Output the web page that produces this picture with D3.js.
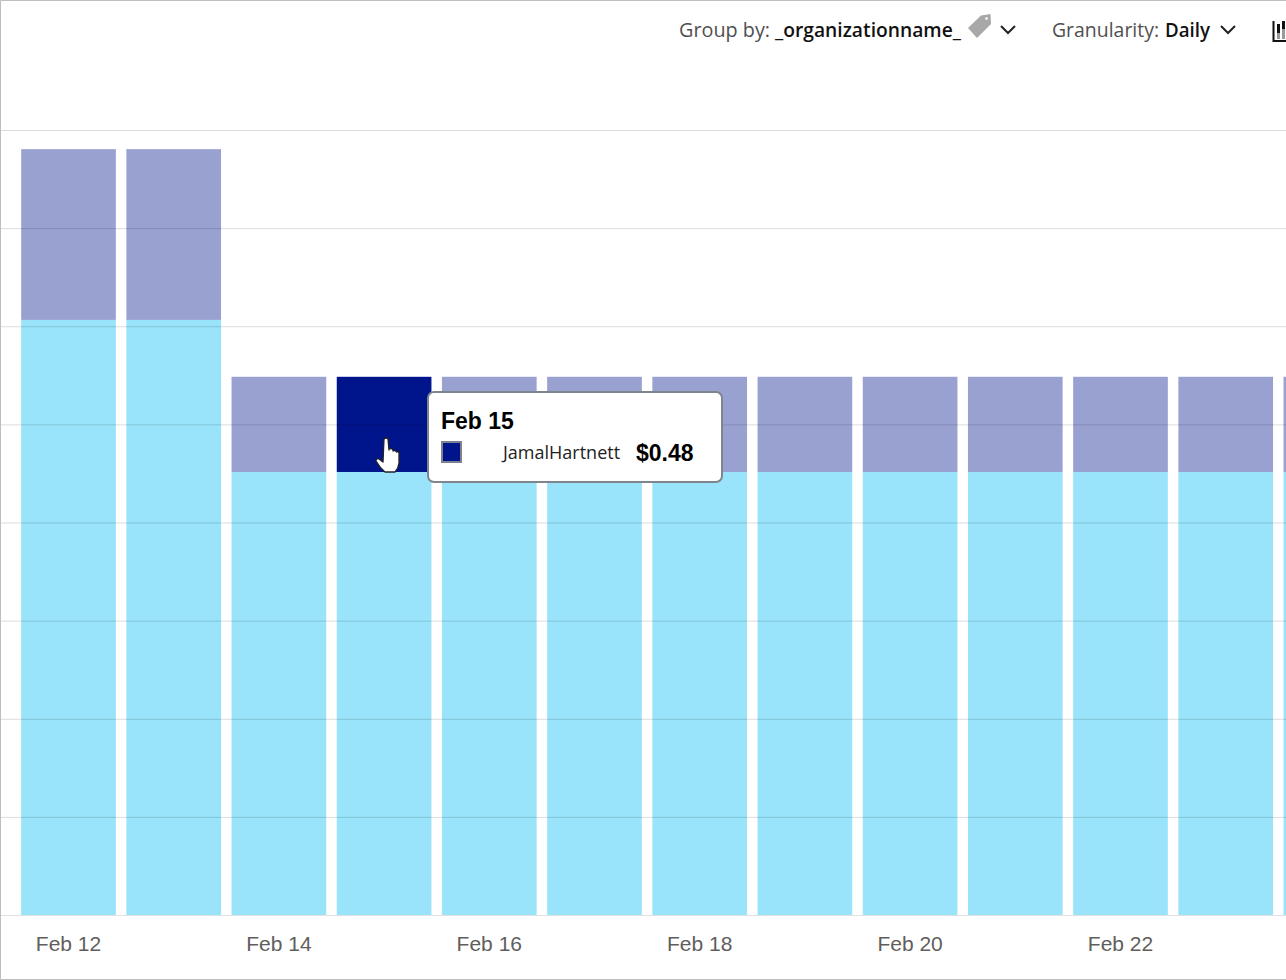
<!DOCTYPE html>
<html>
<head>
<meta charset="utf-8">
<script src="https://cdn.jsdelivr.net/npm/d3@7"></script>
<style>
html, body { margin: 0; padding: 0; background: #fff; overflow: hidden; }
svg { display: block; }
text { font-family: "Open Sans", "Noto Sans", sans-serif; }
.tick text { font-family: "Liberation Sans", Arial, sans-serif; }
</style>
</head>
<body>
<svg id="chart"></svg>
<script>
var days = ["Feb 12","Feb 13","Feb 14","Feb 15","Feb 16","Feb 17","Feb 18","Feb 19","Feb 20","Feb 21","Feb 22","Feb 23","Feb 24"];
var tickDays = ["Feb 12","Feb 14","Feb 16","Feb 18","Feb 20","Feb 22"];
var lowerCost = [3.035,3.035,2.26,2.26,2.26,2.26,2.26,2.26,2.26,2.26,2.26,2.26,2.26];
var upperCost = [0.87,0.87,0.485,0.485,0.485,0.485,0.485,0.485,0.485,0.485,0.485,0.485,0.485];
var gridValues = [0.5,1,1.5,2,2.5,3,3.5,4];
var seriesNames = ["lower","upper"];
var seriesColors = ["#00bcf2","#00148c"];
var hoverDay = "Feb 15";
var hoverName = "JamalHartnett";
var hoverCost = "$0.48";

var w = 1286, h = 980;
var svg = d3.select("#chart").attr("width", w).attr("height", h);

var x = d3.scaleBand().domain(days).range([15.9, 15.9+13*105.2]).paddingInner(0.1).paddingOuter(0.05);
var y = d3.scaleLinear().domain([0,4]).range([915.5,130.5]);

var rows = days.map(function(d,i){ return {day:d, lower:lowerCost[i], upper:upperCost[i]}; });
var stacked = d3.stack().keys(seriesNames)(rows);

// frame
svg.append("path").attr("d", "M"+w+",0.5H0.5V979.5H"+w).attr("fill","none").attr("stroke","#bdbdbd");

svg.append("defs").append("clipPath").attr("id","plot").append("rect").attr("x",1).attr("y",1).attr("width",w).attr("height",h);

svg.append("g").attr("clip-path","url(#plot)").selectAll("g").data(stacked).enter().append("g")
    .attr("fill",function(s,i){return seriesColors[i];})
    .selectAll("rect").data(function(s){return s;}).enter().append("rect")
    .attr("x",function(d){return x(d.data.day);})
    .attr("y",function(d){return y(d[1]);})
    .attr("width",x.bandwidth())
    .attr("height",function(d){return y(d[0])-y(d[1]);})
    .attr("fill-opacity",function(d){
        return (d.data.day==hoverDay && d[0]==d.data.lower) ? 1 : 0.4;
    });

// gridlines sit on top of the bars, dark and see-through
svg.append("g").selectAll("line").data(gridValues).enter().append("line")
    .attr("x1",1).attr("x2",w)
    .attr("y1",function(d){return y(d);})
    .attr("y2",function(d){return y(d);})
    .attr("stroke","#000").attr("stroke-opacity",0.14);

// x axis
var axis = svg.append("g").attr("transform","translate(0,915.5)")
    .call(d3.axisBottom(x).tickValues(tickDays).tickSize(0).tickPadding(21));
axis.select(".domain").attr("stroke","#e1e1e1").attr("d","M1,0H"+w);
axis.selectAll("text").attr("font-size",21).attr("fill","#605e5c");

// toolbar
function barText(tx, txt, len, color, weight){
    svg.append("text").attr("x",tx).attr("y",37).attr("font-size",20).attr("fill",color)
        .attr("font-weight",weight).attr("textLength",len).attr("lengthAdjust","spacingAndGlyphs").text(txt);
}
barText(679,"Group by:",91,"#505050",400);
barText(775,"_organizationname_",186,"#111",600);
barText(1052,"Granularity:",107,"#505050",400);
barText(1165,"Daily",45,"#111",600);

// tag icon
svg.append("path").attr("d","M977,38 L968,28 L981,15.5 L990.5,14 L991,24 Z").attr("fill","#a8a8a8");
svg.append("circle").attr("cx",986.5).attr("cy",18.5).attr("r",1.3).attr("fill","#fff");
// chevrons
[1008,1228].forEach(function(cx){
    svg.append("path").attr("d","M"+(cx-7)+",26 L"+cx+",33 L"+(cx+7)+",26").attr("fill","none").attr("stroke","#222").attr("stroke-width",2);
});
// chart type icon, cut by the right edge
svg.append("path").attr("d","M1273.5,21V41H1286").attr("fill","none").attr("stroke","#111").attr("stroke-width",2);
svg.append("rect").attr("x",1277).attr("y",24).attr("width",3).attr("height",9).attr("fill","#111");
svg.append("rect").attr("x",1277).attr("y",33).attr("width",3).attr("height",6).attr("fill","#999");
svg.append("rect").attr("x",1282).attr("y",21).attr("width",3).attr("height",8).attr("fill","#111");
svg.append("rect").attr("x",1282).attr("y",29).attr("width",3).attr("height",10).attr("fill","#999");

// tooltip
var tip = svg.append("g");
tip.append("rect").attr("x",428).attr("y",392).attr("width",294).attr("height",90).attr("rx",6)
    .attr("fill","#fff").attr("stroke","#7f858c").attr("stroke-width",2);
tip.append("text").attr("x",441).attr("y",429).attr("font-size",23).attr("font-weight",700)
    .style("font-family","'Liberation Sans', Arial, sans-serif").attr("fill","#000").text(hoverDay);
tip.append("rect").attr("x",442).attr("y",442).attr("width",19).attr("height",20)
    .attr("fill",seriesColors[1]).attr("stroke","#7f7f8f").attr("stroke-width",2);
tip.append("text").attr("x",503).attr("y",459).attr("font-size",18).attr("fill","#222").text(hoverName);
tip.append("text").attr("x",636).attr("y",461).attr("font-size",23).attr("font-weight",700)
    .style("font-family","'Liberation Sans', Arial, sans-serif").attr("fill","#000").text(hoverCost);

// hand cursor
svg.append("path")
    .attr("d","M384,439 q2.5,-2 4,0 l1,11 l0,-1 q3,-1 4,1 l0,1 q3,-1 3.5,1 q3,-1 2.5,2 l0,9 q-0.5,5 -4,9 l-10,0 q-5,-4 -9,-11 q0,-3 3,-2 l4,3 Z")
    .attr("fill","#fff").attr("stroke","#222").attr("stroke-width",1.3).attr("stroke-linejoin","round");
</script>
</body>
</html>
